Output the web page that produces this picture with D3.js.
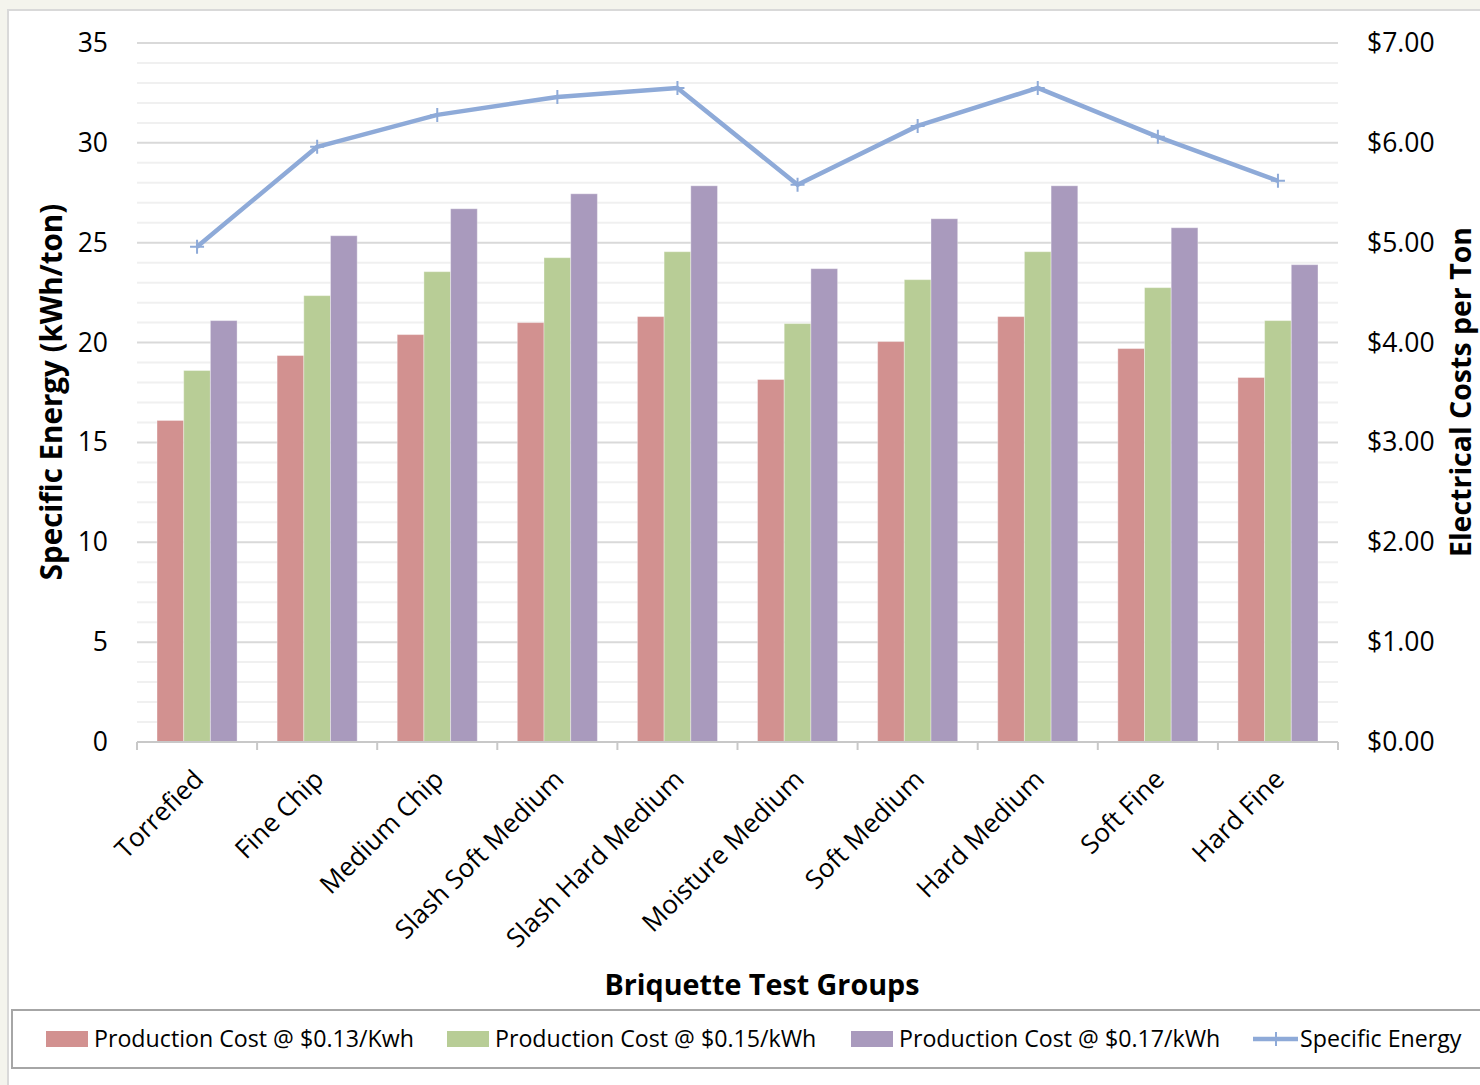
<!DOCTYPE html>
<html>
<head>
<meta charset="utf-8">
<script src="https://cdn.jsdelivr.net/npm/d3@7"></script>
<style>
  html, body { margin: 0; padding: 0; background: #f4f4ed; }
  svg { display: block; }
  text { font-family: "Open Sans", "Noto Sans", sans-serif; fill: #000; }
</style>
</head>
<body>
<svg id="chart" width="1480" height="1085"></svg>
<script>
// Briquette test groups
const categories = ["Torrefied", "Fine Chip", "Medium Chip", "Slash Soft Medium", "Slash Hard Medium",
                    "Moisture Medium", "Soft Medium", "Hard Medium", "Soft Fine", "Hard Fine"];

// Specific energy, kWh/ton (left axis)
const specificEnergy = [24.8, 29.8, 31.4, 32.3, 32.75, 27.9, 30.85, 32.75, 30.3, 28.1];

// Electrical production cost per ton, $ (right axis)
const cost013 = [3.22, 3.87, 4.08, 4.20, 4.26, 3.63, 4.01, 4.26, 3.94, 3.65];
const cost015 = [3.72, 4.47, 4.71, 4.85, 4.91, 4.19, 4.63, 4.91, 4.55, 4.22];
const cost017 = [4.22, 5.07, 5.34, 5.49, 5.57, 4.74, 5.24, 5.57, 5.15, 4.78];

const seriesNames = ["Production Cost @ $0.13/Kwh", "Production Cost @ $0.15/kWh",
                     "Production Cost @ $0.17/kWh", "Specific Energy"];

// Axis ticks
const energyTicks = [0, 5, 10, 15, 20, 25, 30, 35];
const costTicks = [0, 1, 2, 3, 4, 5, 6, 7];

const barColors = ["#d29190", "#b8cd96", "#a99abd"];
const lineColor = "#8eaad8";

const svg = d3.select("#chart");

// chart frame
svg.append("rect")
  .attr("x", 8).attr("y", 10).attr("width", 1500).attr("height", 1100)
  .attr("fill", "#fff").attr("stroke", "#d9d9d9").attr("stroke-width", 2);

const plot = { left: 137, right: 1338, top: 43, bottom: 742 };

const x = d3.scaleBand().domain(categories).range([plot.left, plot.right])
  .paddingInner(1 / 3).paddingOuter(1 / 6);
const xStep = x.step();
const xSub = d3.scaleBand().domain([0, 1, 2]).range([0, x.bandwidth()]);

const yEnergy = d3.scaleLinear().domain([0, 35]).range([plot.bottom, plot.top]);
const yCost = d3.scaleLinear().domain([0, 7]).range([plot.bottom, plot.top]);

// minor gridlines every 1 kWh/ton, major every 5
const grid = svg.append("g");
grid.selectAll("line.minor")
  .data(d3.range(1, 35).filter(v => v % 5 !== 0))
  .join("line").attr("class", "minor")
  .attr("x1", plot.left).attr("x2", plot.right)
  .attr("y1", d => yEnergy(d)).attr("y2", d => yEnergy(d))
  .attr("stroke", "#f0f0f0").attr("stroke-width", 2);
grid.selectAll("line.major")
  .data(energyTicks.filter(v => v > 0))
  .join("line").attr("class", "major")
  .attr("x1", plot.left).attr("x2", plot.right)
  .attr("y1", d => yEnergy(d)).attr("y2", d => yEnergy(d))
  .attr("stroke", "#d9d9d9").attr("stroke-width", 2);

// bars
const costSeries = [cost013, cost015, cost017];
const groups = svg.append("g").selectAll("g")
  .data(categories).join("g")
  .attr("transform", d => `translate(${x(d)},0)`);
groups.selectAll("rect")
  .data((d, i) => costSeries.map((s, k) => ({ k, v: s[i] })))
  .join("rect")
  .attr("x", d => xSub(d.k))
  .attr("width", xSub.bandwidth())
  .attr("y", d => yCost(d.v))
  .attr("height", d => yCost(0) - yCost(d.v))
  .attr("fill", d => barColors[d.k])
  .attr("stroke", "#ffffff").attr("stroke-opacity", 0.35).attr("stroke-width", 1);

// category axis
const xAxisG = svg.append("g");
xAxisG.append("line")
  .attr("x1", plot.left).attr("x2", plot.right)
  .attr("y1", plot.bottom).attr("y2", plot.bottom)
  .attr("stroke", "#c8c8c8").attr("stroke-width", 2);
xAxisG.selectAll("line.tick")
  .data(d3.range(categories.length + 1))
  .join("line").attr("class", "tick")
  .attr("x1", i => plot.left + i * xStep).attr("x2", i => plot.left + i * xStep)
  .attr("y1", plot.bottom).attr("y2", plot.bottom + 8)
  .attr("stroke", "#c8c8c8").attr("stroke-width", 2);
xAxisG.selectAll("text")
  .data(categories).join("text")
  .attr("text-anchor", "end")
  .attr("font-size", 26)
  .attr("transform", d => `translate(${x(d) + x.bandwidth() / 2 + 8},781) rotate(-45)`)
  .text(d => d);

// left axis (specific energy)
const leftAxis = svg.append("g")
  .attr("transform", `translate(${plot.left},0)`)
  .call(d3.axisLeft(yEnergy).tickValues(energyTicks).tickSize(0).tickPadding(29).tickFormat(d3.format("d")));
leftAxis.select(".domain").remove();
leftAxis.selectAll("text").attr("font-size", 26.5).attr("font-family", "Open Sans").attr("fill", "#000");

// right axis (cost)
const rightAxis = svg.append("g")
  .attr("transform", `translate(${plot.right},0)`)
  .call(d3.axisRight(yCost).tickValues(costTicks).tickSize(0).tickPadding(29).tickFormat(d => "$" + d3.format(".2f")(d)));
rightAxis.select(".domain").remove();
rightAxis.selectAll("text").attr("font-size", 26.5).attr("font-family", "Open Sans").attr("fill", "#000");

// specific energy line
const cx = d => x(d) + x.bandwidth() / 2;
const lineGen = d3.line().x((d, i) => cx(categories[i])).y(d => yEnergy(d));
svg.append("path")
  .datum(specificEnergy)
  .attr("d", lineGen)
  .attr("fill", "none").attr("stroke", lineColor).attr("stroke-width", 4.5)
  .attr("stroke-linejoin", "round");
svg.append("g").selectAll("path")
  .data(specificEnergy).join("path")
  .attr("d", (d, i) => {
    const px = cx(categories[i]), py = yEnergy(d), r = 7;
    return `M${px - r},${py}H${px + r}M${px},${py - r}V${py + r}`;
  })
  .attr("stroke", lineColor).attr("stroke-width", 2).attr("fill", "none");

// axis titles
svg.append("text")
  .attr("transform", "translate(62,392) rotate(-90)")
  .attr("text-anchor", "middle").attr("font-size", 29.5).attr("font-weight", "bold")
  .text("Specific Energy (kWh/ton)");
svg.append("text")
  .attr("transform", "translate(1471,392) rotate(-90)")
  .attr("text-anchor", "middle").attr("font-size", 28.5).attr("font-weight", "bold")
  .text("Electrical Costs per Ton");
svg.append("text")
  .attr("x", 762).attr("y", 995)
  .attr("text-anchor", "middle").attr("font-size", 28.7).attr("font-weight", "bold")
  .text("Briquette Test Groups");

// legend
svg.append("rect")
  .attr("x", 12).attr("y", 1010).attr("width", 1490).attr("height", 58)
  .attr("fill", "#fff").attr("stroke", "#a6a6a6").attr("stroke-width", 2);
const legendX = [46, 447, 851, 1253];
const legend = svg.append("g").selectAll("g")
  .data(seriesNames).join("g")
  .attr("transform", (d, i) => `translate(${legendX[i]},1039)`);
legend.filter((d, i) => i < 3).append("rect")
  .attr("x", 0).attr("y", -8).attr("width", 42).attr("height", 16)
  .attr("fill", (d, i) => barColors[i]);
legend.filter((d, i) => i === 3).append("line")
  .attr("x1", 0).attr("x2", 45).attr("y1", 0).attr("y2", 0)
  .attr("stroke", lineColor).attr("stroke-width", 4.5);
legend.filter((d, i) => i === 3).append("path")
  .attr("d", "M16,0H30M23,-7V7")
  .attr("stroke", lineColor).attr("stroke-width", 2);
legend.append("text")
  .attr("x", (d, i) => i < 3 ? 48 : 47)
  .attr("y", 0).attr("dy", "0.35em")
  .attr("font-size", 23.2)
  .text(d => d);
</script>
</body>
</html>
